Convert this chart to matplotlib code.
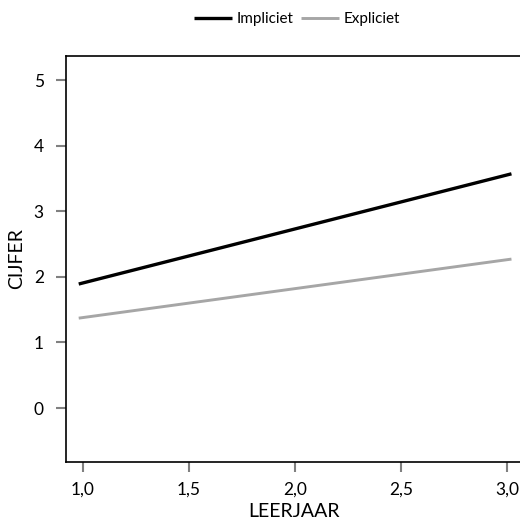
import matplotlib
matplotlib.use("Agg")
import matplotlib.pyplot as plt

x_years = [0.98, 3.02]
impliciet = [1.89, 3.57]
expliciet = [1.37, 2.27]
x_ticks = [1.0, 1.5, 2.0, 2.5, 3.0]
x_tick_labels = ["1,0", "1,5", "2,0", "2,5", "3,0"]
y_ticks = [0, 1, 2, 3, 4, 5]
y_tick_labels = ["0", "1", "2", "3", "4", "5"]

plt.rcParams['font.family'] = ['Lato', 'DejaVu Sans']

fig = plt.figure(figsize=(5.20, 5.21), dpi=100)
ax = fig.add_axes([66/520, 1-462/521, (521-66)/520, (462-56)/521])

l1, = ax.plot(x_years, impliciet, color='black', lw=2.4, solid_capstyle='butt', label='Impliciet')
l2, = ax.plot(x_years, expliciet, color='#a6a6a6', lw=2.1, solid_capstyle='butt', label='Expliciet')

ax.set_xlim(0.92, 3.065)
ax.set_ylim(-0.823, 5.366)
ax.set_xticks(x_ticks)
ax.set_xticklabels(x_tick_labels, fontsize=12.5)
ax.set_yticks(y_ticks)
ax.set_yticklabels(y_tick_labels, fontsize=12.5)
ax.tick_params(axis='both', direction='out', length=7, width=1.5, color='#808080', pad=7)
ax.tick_params(axis='y', pad=9)
for s in ['left', 'bottom', 'top']:
    ax.spines[s].set_linewidth(1.2)
    ax.spines[s].set_color('black')
ax.spines['right'].set_visible(False)

ax.set_xlabel('LEERJAAR', fontsize=14, labelpad=4)
ax.set_ylabel('CIJFER', fontsize=14, labelpad=6)

fig.legend(handles=[l1, l2], loc='center', bbox_to_anchor=(297/520, 1-19/521),
           ncol=2, frameon=False, fontsize=11, handlelength=2.5, handletextpad=0.3,
           columnspacing=0.5)

fig.savefig('out.png', dpi=100)
